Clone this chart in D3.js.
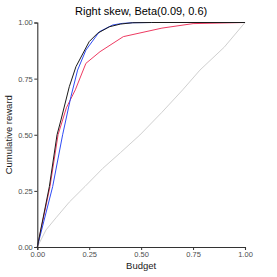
<!DOCTYPE html>
<html>
<head>
<meta charset="utf-8">
<script src="https://cdn.jsdelivr.net/npm/d3@7"></script>
<style>
body { margin: 0; background: #fff; }
text { font-family: "Liberation Sans", Arial, sans-serif; }
</style>
</head>
<body>
<script>
// budget / reward pairs
var black_x = [0, 0.058, 0.095, 0.114, 0.154, 0.186, 0.25, 0.29, 0.347, 0.40, 0.46, 0.55, 1];
var black_y = [0, 0.269, 0.50, 0.566, 0.714, 0.803, 0.915, 0.952, 0.981, 0.993, 0.999, 1, 1];

var blue_x = [0, 0.074, 0.122, 0.162, 0.194, 0.234, 0.299, 0.363, 0.41, 0.459, 0.55, 1];
var blue_y = [0, 0.269, 0.50, 0.67, 0.788, 0.877, 0.959, 0.989, 0.996, 0.999, 1, 1];

var red_x = [0, 0.061, 0.10, 0.14, 0.183, 0.234, 0.302, 0.414, 0.6, 0.75, 1];
var red_y = [0, 0.269, 0.50, 0.62, 0.70, 0.818, 0.87, 0.937, 0.975, 0.995, 1];

var gray_x = [0, 0.042, 0.09, 0.154, 0.23, 0.315, 0.4, 0.494, 0.6, 0.7, 0.783, 0.9, 1];
var gray_y = [0, 0.076, 0.13, 0.20, 0.27, 0.35, 0.42, 0.499, 0.6, 0.7, 0.788, 0.89, 1];

var ticks = [0, 0.25, 0.5, 0.75, 1];

var svg = d3.select("body").append("svg").attr("width", 277).attr("height", 277),
    margin = {top: 22.5, right: 32, bottom: 30, left: 37.3},
    width = 277 - margin.left - margin.right,
    height = 277 - margin.top - margin.bottom;

var x = d3.scaleLinear().domain([0, 1]).range([0, width]);
var y = d3.scaleLinear().domain([0, 1]).range([height, 0]);

var g = svg.append("g")
    .attr("transform", "translate(" + margin.left + "," + margin.top + ")");

var line = d3.line()
    .x(function (d) { return x(d[0]); })
    .y(function (d) { return y(d[1]); });

var series = [
    {xs: gray_x, ys: gray_y, color: "#d0d0d0"},
    {xs: red_x, ys: red_y, color: "#ee3b62"},
    {xs: blue_x, ys: blue_y, color: "#2f4cf5"},
    {xs: black_x, ys: black_y, color: "#1a1a1a"}
];

series.forEach(function (s) {
    g.append("path")
        .datum(d3.zip(s.xs, s.ys))
        .attr("fill", "none")
        .attr("stroke", s.color)
        .attr("stroke-width", 1)
        .attr("d", line);
});

var xAxis = g.append("g")
    .attr("transform", "translate(0," + height + ")")
    .call(d3.axisBottom(x).tickValues(ticks).tickFormat(d3.format(".2f")).tickSize(3).tickPadding(1.5));

var yAxis = g.append("g")
    .call(d3.axisLeft(y).tickValues(ticks).tickFormat(d3.format(".2f")).tickSize(3).tickPadding(1.5));

[xAxis, yAxis].forEach(function (a) {
    a.select(".domain").attr("stroke", "#333").attr("stroke-width", 1.1);
    a.selectAll(".tick line").attr("stroke", "#333");
    a.selectAll(".tick text").attr("fill", "#4d4d4d")
        .style("font-size", "7.5px").style("font-family", "Liberation Sans, Arial, sans-serif");
});

svg.append("text")
    .attr("x", margin.left + width / 2)
    .attr("y", 15)
    .attr("text-anchor", "middle")
    .style("font-size", "11px")
    .text("Right skew, Beta(0.09, 0.6)");

svg.append("text")
    .attr("x", margin.left + width / 2)
    .attr("y", 269)
    .attr("text-anchor", "middle")
    .style("font-size", "9.5px")
    .attr("fill", "#1a1a1a")
    .text("Budget");

svg.append("text")
    .attr("transform", "translate(12," + (margin.top + height / 2) + ") rotate(-90)")
    .attr("text-anchor", "middle")
    .style("font-size", "9.5px")
    .attr("fill", "#1a1a1a")
    .text("Cumulative reward");
</script>
</body>
</html>
